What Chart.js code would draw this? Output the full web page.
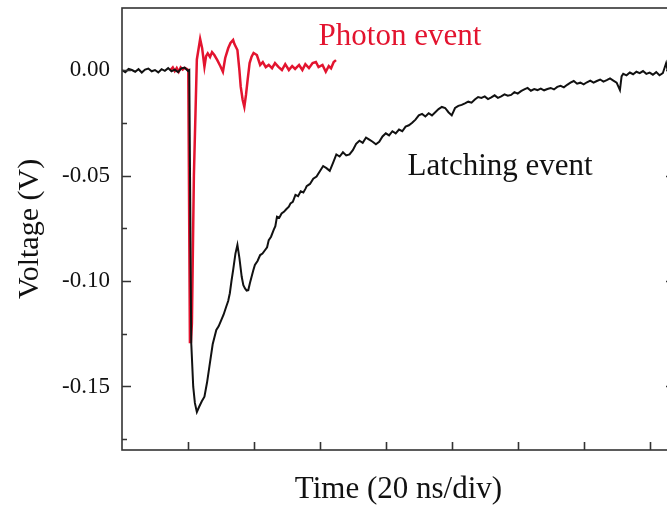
<!DOCTYPE html>
<html>
<head>
<meta charset="utf-8">
<script src="https://cdn.jsdelivr.net/npm/chart.js@4.4.0/dist/chart.umd.min.js"></script>
<style>
html, body { margin: 0; padding: 0; background: #fff; overflow: hidden; }
#wrap { width: 675px; height: 508px; }
</style>
</head>
<body>
<div id="wrap"><canvas id="pulse"></canvas></div>
<script>
// time in ns (20 ns per division), voltage in V
const latchT = [0,1,2,3,4,5,6,7,8,9,10,11,12,13,14,15,16,17,18,19,20,20.4,
  21.0,21.6,22.1,22.7,23.4,24.2,25.0,25.8,26.5,27.5,28.6,29.3,30.1,30.8,31.6,32.2,32.7,33.2,33.7,34.4,
  35.0,35.6,36.3,36.8,37.3,37.8,38.3,38.8,39.3,39.8,40.3,41.1,41.9,42.6,43.4,44.0,44.5,45.2,46.0,46.5,
  47.0,47.7,48.4,49.1,49.8,50.6,51.1,51.8,52.6,53.4,54.2,55.0,55.7,
  56,57,58,59,60,61,62,63,64,65,66,67,68,69,70,71,72,73,74,75,76,77,78,79,80,81,82,83,84,85,86,87,88,89,
  90,91,92,93,94,95,96,97,98,99,100,101,102,103,104,105,106,107,108,109,110,111,112,113,114,115,116,117,
  118,119,120,121,122,123,124,125,126,127,128,129,130,131,132,133,134,135,136,137,138,139,140,141,142,143,
  144,145,146,147,148,149,150,151,151.5,152,153,154,155,156,157,158,159,160,161,162,163,164,165,165.6,166,167,168];
const latchV = [0.0000,-0.0010,0.0005,0.0000,-0.0008,0.0004,-0.0012,0.0002,0.0007,-0.0006,0.0000,-0.0011,
  0.0004,-0.0004,0.0009,-0.0006,0.0002,-0.0010,0.0008,0.0012,-0.0004,0.0000,
  -0.1294,-0.1501,-0.1578,-0.1621,-0.1596,-0.1570,-0.1548,-0.1480,-0.1406,-0.1300,-0.1232,-0.1215,-0.1185,
  -0.1160,-0.1122,-0.1095,-0.1058,-0.1000,-0.0948,-0.0870,
  -0.0829,-0.0890,-0.0980,-0.1020,-0.1035,-0.1045,-0.1043,-0.1010,-0.0980,-0.0950,-0.0924,-0.0905,-0.0877,
  -0.0870,-0.0853,-0.0840,-0.0806,-0.0790,-0.0758,-0.0740,
  -0.0695,-0.0700,-0.0680,-0.0672,-0.0660,-0.0648,-0.0632,-0.0625,-0.0592,-0.0598,-0.0575,-0.0580,-0.0561,
  -0.0550,-0.0540,-0.0515,-0.0505,-0.0480,-0.0455,-0.0465,-0.0478,-0.0440,-0.0400,-0.0410,-0.0390,-0.0405,
  -0.0400,-0.0380,-0.0350,-0.0335,-0.0345,-0.0320,-0.0330,-0.0340,-0.0352,-0.0340,-0.0315,-0.0300,-0.0310,
  -0.0290,-0.0300,-0.0282,-0.0290,-0.0268,-0.0262,-0.0250,-0.0235,
  -0.0215,-0.0208,-0.0220,-0.0205,-0.0215,-0.0200,-0.0185,-0.0175,-0.0180,-0.0200,-0.0215,-0.0180,-0.0170,
  -0.0165,-0.0158,-0.0150,-0.0155,-0.0140,-0.0128,-0.0132,-0.0125,-0.0138,-0.0130,-0.0120,-0.0132,-0.0125,
  -0.0115,-0.0122,
  -0.0118,-0.0105,-0.0112,-0.0100,-0.0092,-0.0085,-0.0098,-0.0090,-0.0095,-0.0088,-0.0096,-0.0090,-0.0085,
  -0.0092,-0.0080,-0.0075,-0.0082,-0.0070,-0.0060,-0.0052,-0.0065,-0.0060,-0.0068,-0.0058,-0.0050,-0.0060,
  -0.0052,-0.0045,-0.0055,-0.0048,-0.0040,-0.0050,-0.0060,-0.0095,-0.0030,-0.0018,-0.0025,-0.0012,-0.0020,
  -0.0008,-0.0015,-0.0005,-0.0018,-0.0012,-0.0022,-0.0010,-0.0025,-0.0015,0.0032,-0.0010,-0.0018,-0.0008,-0.0015];

const photonT = [14.7,15.4,16.0,16.6,17.2,17.8,18.4,19.0,19.7,20.1,20.6,20.9,21.2,21.8,22.7,23.7,
  24.3,25.0,25.5,26.0,26.7,27.3,28.0,28.9,29.8,30.6,31.3,32.2,32.9,33.7,34.1,35.0,35.6,36.0,36.6,37.1,
  37.6,38.1,38.7,39.3,39.9,40.9,41.9,42.7,43.6,44.5,45.5,46.4,47.5,48.5,49.5,50.6,51.6,52.5,53.7,54.7,
  55.6,56.7,57.8,58.8,59.6,60.8,61.8,62.7,63.4,64.2,64.9];
const photonV = [0.0000,0.0012,-0.0005,0.0010,-0.0008,0.0012,0.0002,0.0010,0.0005,0.0000,-0.1289,-0.1289,
  -0.1200,-0.0500,0.0050,0.0147,
  0.0104,0.0016,0.0066,0.0079,0.0062,0.0085,0.0071,0.0047,0.0019,-0.0008,0.0057,0.0103,0.0128,0.0142,
  0.0123,0.0095,0.0000,-0.0079,-0.0142,-0.0174,
  -0.0118,-0.0047,0.0033,0.0063,0.0081,0.0071,0.0024,0.0038,0.0014,0.0024,0.0009,0.0033,0.0014,0.0000,
  0.0028,0.0000,0.0019,0.0005,0.0024,0.0000,
  0.0028,0.0009,0.0033,0.0038,0.0014,0.0024,-0.0008,0.0019,0.0008,0.0038,0.0047];

const yTicks = [0, -0.05, -0.10, -0.15];
const yMinor = [-0.025, -0.075, -0.125, -0.175];
const xTicks = [20, 40, 60, 80, 100, 120, 140, 160];

const serif = 'Liberation Serif, Times New Roman, serif';
const toXY = (ts, vs) => ts.map((t, i) => ({ x: t, y: vs[i] }));

const framePlugin = {
  id: 'frame',
  afterDatasetsDraw(chart) {
    const { ctx, chartArea: a, scales: { x, y } } = chart;
    ctx.save();
    ctx.strokeStyle = '#333';
    ctx.lineWidth = 1.6;
    ctx.strokeRect(a.left, a.top, a.right - a.left, a.bottom - a.top);
    ctx.beginPath();
    xTicks.forEach(t => {
      const px = Math.round(x.getPixelForValue(t)) + 0.5;
      ctx.moveTo(px, a.bottom);
      ctx.lineTo(px, a.bottom - 8);
    });
    yTicks.forEach(v => {
      const py = Math.round(y.getPixelForValue(v)) + 0.5;
      ctx.moveTo(a.left, py); ctx.lineTo(a.left + 9, py);
      ctx.moveTo(a.right, py); ctx.lineTo(a.right - 9, py);
    });
    yMinor.forEach(v => {
      const py = Math.round(y.getPixelForValue(v)) + 0.5;
      ctx.moveTo(a.left, py); ctx.lineTo(a.left + 5, py);
      ctx.moveTo(a.right, py); ctx.lineTo(a.right - 5, py);
    });
    ctx.stroke();

    ctx.font = '31px ' + serif;
    ctx.textAlign = 'left';
    ctx.textBaseline = 'alphabetic';
    ctx.fillStyle = '#e3142f';
    ctx.fillText('Photon event', x.getPixelForValue(59.6), y.getPixelForValue(0.0118));
    ctx.fillStyle = '#111';
    ctx.fillText('Latching event', x.getPixelForValue(86.6), y.getPixelForValue(-0.0498));
    ctx.restore();
  }
};

new Chart(document.getElementById('pulse'), {
  type: 'scatter',
  data: {
    datasets: [{
      label: 'Latching event',
      data: toXY(latchT, latchV),
      showLine: true,
      borderColor: '#111',
      borderWidth: 2,
      pointRadius: 0,
      tension: 0
    }, {
      label: 'Photon event',
      data: toXY(photonT, photonV),
      showLine: true,
      borderColor: '#e3142f',
      borderWidth: 2.5,
      pointRadius: 0,
      tension: 0
    }]
  },
  options: {
    responsive: true,
    maintainAspectRatio: false,
    animation: false,
    layout: { padding: { top: 8, right: 0, left: 0, bottom: 0 } },
    plugins: { legend: { display: false }, tooltip: { enabled: false } },
    scales: {
      x: {
        type: 'linear',
        min: 0,
        max: 167.7,
        grid: { display: false },
        border: { display: false },
        ticks: { display: false },
        title: { display: true, text: 'Time (20 ns/div)', color: '#111', font: { family: serif, size: 31 }, padding: 0 },
        afterFit(s) { s.height = 58; s.paddingLeft = 0; s.paddingRight = 0; }
      },
      y: {
        min: -0.1801,
        max: 0.0294,
        grid: { display: false, drawTicks: false },
        border: { display: false },
        afterBuildTicks(s) { s.ticks = yTicks.map(v => ({ value: v })); },
        ticks: {
          padding: 12,
          color: '#111',
          font: { family: serif, size: 23 },
          callback: v => v.toFixed(2)
        },
        title: { display: true, text: 'Voltage (V)', color: '#111', font: { family: serif, size: 30, lineHeight: 2 }, padding: 0 },
        afterFit(s) { s.width = 122; s.paddingTop = 0; s.paddingBottom = 0; }
      }
    }
  },
  plugins: [framePlugin]
});
</script>
</body>
</html>
